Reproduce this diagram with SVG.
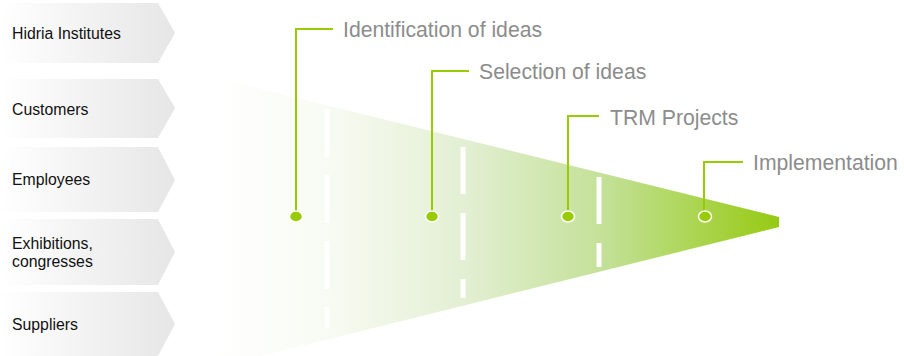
<svg xmlns="http://www.w3.org/2000/svg" width="904" height="356" viewBox="0 0 904 356">
<defs>
<linearGradient id="chev" x1="0" y1="0" x2="1" y2="0">
<stop offset="0" stop-color="#ffffff"/>
<stop offset="1" stop-color="#e6e6e6"/>
</linearGradient>
<linearGradient id="fun" gradientUnits="userSpaceOnUse" x1="213" y1="0" x2="779" y2="0">
<stop offset="0" stop-color="#ffffff"/>
<stop offset="0.2" stop-color="#f8fbf3"/>
<stop offset="0.45" stop-color="#e2efd2"/>
<stop offset="0.7" stop-color="#c2e094"/>
<stop offset="1" stop-color="#96ca12"/>
</linearGradient>
</defs>
<style>
.chev{fill:url(#chev)}
.src{font-family:"Liberation Sans",Arial,sans-serif;font-size:15.8px;fill:#111}
.lbl{font-family:"Liberation Sans",Arial,sans-serif;font-size:21.2px;fill:#8c8c8c}
.lead{fill:none;stroke:#99cc00;stroke-width:2}
.dash{stroke:#ffffff;stroke-width:5;fill:none}
.dot{fill:#99cc00;stroke:#ffffff;stroke-width:1.5}
</style>
<g id="funnel">
<polygon points="213,77 779,217 779,227 213,368" fill="url(#fun)"/>
<line class="dash" x1="327" y1="109" x2="327" y2="328" stroke-dasharray="48 18"/>
<line class="dash" x1="463" y1="147" x2="463" y2="298" stroke-dasharray="47 19"/>
<line class="dash" x1="599" y1="177" x2="599" y2="267" stroke-dasharray="47 19"/>
</g>
<g id="sources">
<g id="src-hidria"><path class="chev" d="M0,3 H158 L175,33 L158,63 H0 Z"/><text class="src" x="12" y="39">Hidria Institutes</text></g>
<g id="src-customers"><path class="chev" d="M0,79 H158 L175,108 L158,138 H0 Z"/><text class="src" x="12" y="115">Customers</text></g>
<g id="src-employees"><path class="chev" d="M0,147 H158 L175,180 L158,212 H0 Z"/><text class="src" x="12" y="185">Employees</text></g>
<g id="src-exhibitions"><path class="chev" d="M0,219 H158 L175,252 L158,285 H0 Z"/><text class="src" x="12" y="249">Exhibitions,</text><text class="src" x="12" y="267">congresses</text></g>
<g id="src-suppliers"><path class="chev" d="M0,292 H158 L175,324 L158,356 H0 Z"/><text class="src" x="12" y="330">Suppliers</text></g>
</g>
<g id="connectors">
<polyline class="lead" points="296,216 296,29 333,29"/>
<polyline class="lead" points="432,216 432,71 469,71"/>
<polyline class="lead" points="568,216 568,116 599,116"/>
<polyline class="lead" points="704,216 704,162 743,162"/>
</g>
<g id="stage-identification"><ellipse class="dot" cx="296" cy="216.5" rx="6.5" ry="5.5"/><text class="lbl" x="343" y="37">Identification of ideas</text></g>
<g id="stage-selection"><ellipse class="dot" cx="432" cy="216.5" rx="6.5" ry="5.5"/><text class="lbl" x="479" y="79">Selection of ideas</text></g>
<g id="stage-trm"><ellipse class="dot" cx="568" cy="216.5" rx="6.5" ry="5.5"/><text class="lbl" x="610" y="125">TRM Projects</text></g>
<g id="stage-implementation"><ellipse class="dot" cx="705" cy="216.5" rx="6.5" ry="5.5"/><text class="lbl" x="753" y="170">Implementation</text></g>
</svg>
